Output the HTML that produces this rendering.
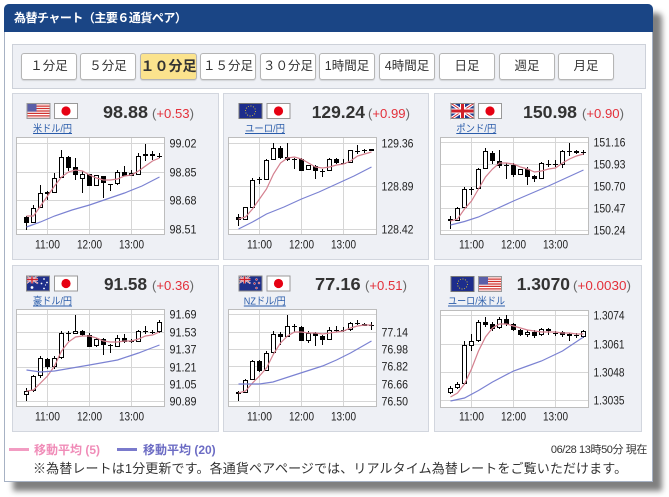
<!DOCTYPE html>
<html><head><meta charset="utf-8">
<style>
*{margin:0;padding:0;box-sizing:border-box}
body{width:669px;height:497px;background:#fff;position:relative;overflow:hidden;font-family:"Liberation Sans","Noto Sans CJK JP",sans-serif;color:#333}
.abs{position:absolute}
#box{left:4px;top:4px;width:649px;height:478px;border:1px solid #a7b2c4;border-radius:5px 5px 0 0;background:#fff;box-shadow:9px 9px 6px rgba(0,0,0,.5)}
#hd{left:4px;top:4px;width:649px;height:28px;background:#1a4585;border-radius:5px 5px 0 0;color:#fff;font-weight:bold;font-size:12px;letter-spacing:-0.5px;line-height:28px;padding-left:10px;white-space:nowrap}
#bp{left:12px;top:44px;width:634px;height:45px;background:#eef0f5;border:1px solid #cdd1d9}
.btn{position:absolute;top:53px;width:56px;height:27px;background:#fff;border:1px solid #b5b5b5;border-radius:3px;font-size:12.5px;text-align:center;line-height:25px;color:#333;box-shadow:0 1px 1px rgba(0,0,0,.12);white-space:nowrap}
.on{background:#fbe38d;font-weight:bold;font-size:14px}
.pnl{position:absolute;background:#eef0f5;border:1px solid #d2d6de}
svg text{font-family:"Liberation Sans","Noto Sans CJK JP",sans-serif}
.lk{font-size:10px;fill:#2a5caa}
.pr{font-size:17.5px;font-weight:bold;fill:#333}
.ch{font-size:13px;fill:#666}
.ch .r{fill:#e3303a}
.ax{font-size:12px;fill:#222}
.grid{stroke:#d6d6d6;stroke-width:1;fill:none}
.wk{stroke:#000;stroke-width:1;fill:none}
.wb{fill:#fff;stroke:#000;stroke-width:1}
.bb{fill:#000}
.m5{fill:none;stroke:#d4808f;stroke-width:1.2}
.m20{fill:none;stroke:#7b82d2;stroke-width:1.2}
.lg{position:absolute;top:443px;font-size:12px;font-weight:bold;line-height:14px;white-space:nowrap}
</style></head><body>
<div id="box" class="abs"></div>
<div id="hd" class="abs">為替チャート（主要６通貨ペア）</div>
<div id="bp" class="abs"></div>
<div class="btn" style="left:21px">１分足</div>
<div class="btn" style="left:80px">５分足</div>
<div class="btn on" style="left:139.5px;width:57px">１０分足</div>
<div class="btn" style="left:200px">１５分足</div>
<div class="btn" style="left:260px">３０分足</div>
<div class="btn" style="left:319px">1時間足</div>
<div class="btn" style="left:379px">4時間足</div>
<div class="btn" style="left:439px">日足</div>
<div class="btn" style="left:499px">週足</div>
<div class="btn" style="left:558px">月足</div>

<div class="pnl" style="left:12px;top:93px;width:207px;height:167px"></div>
<div class="pnl" style="left:223px;top:93px;width:206px;height:167px"></div>
<div class="pnl" style="left:434px;top:93px;width:208px;height:167px"></div>
<div class="pnl" style="left:12px;top:265px;width:207px;height:167px"></div>
<div class="pnl" style="left:223px;top:265px;width:206px;height:167px"></div>
<div class="pnl" style="left:434px;top:265px;width:208px;height:167px"></div>

<!-- Panel 1 USD/JPY -->
<svg class="abs" style="left:12px;top:93px" width="207" height="167">
<g transform="translate(14.5,10)"><rect width="24" height="16" fill="#fff"/><path d="M0 0h24v1.2H0zM0 2.5h24v1.2H0zM0 4.9h24v1.2H0zM0 7.4h24v1.2H0zM0 9.8h24v1.2H0zM0 12.3h24v1.2H0zM0 14.8h24v1.2H0z" fill="#d0312d"/><rect width="10" height="8.6" fill="#5b5fa8"/><rect x=".5" y=".5" width="23" height="15" fill="none" stroke="#999"/></g>
<g transform="translate(42,10)"><rect x=".5" y=".5" width="23" height="15" fill="#fff" stroke="#999"/><circle cx="12" cy="8" r="4.6" fill="#e60012"/></g>
<text class="lk" x="40.5" y="39" text-anchor="middle" textLength="39" lengthAdjust="spacingAndGlyphs">米ドル/円</text><line x1="21" y1="40.5" x2="60" y2="40.5" stroke="#2a5caa"/>
<text class="pr" x="91" y="25" textLength="45" lengthAdjust="spacingAndGlyphs">98.88</text>
<text class="ch" x="140" y="25" textLength="42" lengthAdjust="spacingAndGlyphs">(<tspan class="r">+0.53</tspan>)</text>
<g transform="translate(4,44)">
<rect x=".5" y=".5" width="148" height="97" fill="#fff" stroke="#bdbdbd"/>
<path class="grid" d="M1 6.5H148M1 35.5H148M1 63.5H148M1 92.5H148M31.5 1V97M73.5 1V97M115.5 1V97"/>
<path class="wk" d="M10.5 79V93M17.5 68V86M24.5 48V71M31.5 54V63M38.5 36V56M45.5 13V41M52.5 19V34M59.5 21V43M66.5 34V56M73.5 37V49M80.5 38V49M87.5 39V61M94.5 47V54M101.5 33V48M108.5 29V39M115.5 33V39M122.5 16V38M129.5 7V24M136.5 14V23M143.5 16V21"/>
<path class="wb" d="M15.5 71.5h4v14h-4zM22.5 56.5h4v14h-4zM36.5 41.5h4v14h-4zM43.5 20.5h4v20h-4zM64.5 37.5h4v4h-4zM78.5 38.5h4v10h-4zM99.5 35.5h4v11h-4zM113.5 36.5h4v2h-4zM120.5 19.5h4v18h-4zM127.5 17.5h4v1h-4z"/>
<path class="bb" d="M8 80h5v6h-5zM29 55h5v2h-5zM50 20h5v11h-5zM57 30h5v8h-5zM71 37h5v12h-5zM85 39h5v7h-5zM106 35h5v4h-5zM134 17h5v2h-5z"/>
<path class="wk" d="M92 47.5h5M141 19.5h5"/>
<polyline class="m5" points="10.5,79 17.5,79 24.5,69 31.5,59 38.5,49 45.5,40 52.5,35 59.5,33 66.5,34 73.5,38 80.5,41 87.5,43 94.5,43 101.5,42 108.5,39 115.5,38 122.5,34 129.5,29 136.5,24 143.5,21"/>
<polyline class="m20" points="10.5,90 24.5,85 38.5,79 56,73 73.5,68 91,62 108.5,56 126,49 143.5,40"/>
<text class="ax" x="153.5" y="10.5" textLength="27" lengthAdjust="spacingAndGlyphs">99.02</text>
<text class="ax" x="153.5" y="39.5" textLength="27" lengthAdjust="spacingAndGlyphs">98.85</text>
<text class="ax" x="153.5" y="67.5" textLength="27" lengthAdjust="spacingAndGlyphs">98.68</text>
<text class="ax" x="153.5" y="96.5" textLength="27" lengthAdjust="spacingAndGlyphs">98.51</text>
<text class="ax" x="31.5" y="111.5" text-anchor="middle" textLength="25" lengthAdjust="spacingAndGlyphs">11:00</text>
<text class="ax" x="73.5" y="111.5" text-anchor="middle" textLength="25" lengthAdjust="spacingAndGlyphs">12:00</text>
<text class="ax" x="115.5" y="111.5" text-anchor="middle" textLength="25" lengthAdjust="spacingAndGlyphs">13:00</text>
</g></svg>

<!-- Panel 2 EUR/JPY -->
<svg class="abs" style="left:223px;top:93px" width="206" height="167">
<g transform="translate(15.5,10)"><rect width="24" height="16" fill="#1d2d8c"/><circle cx="12" cy="8" r="5" fill="none" stroke="#d8c438" stroke-width=".9" stroke-dasharray="1 1.6"/><rect x=".5" y=".5" width="23" height="15" fill="none" stroke="#777"/></g>
<g transform="translate(43.5,10)"><rect x=".5" y=".5" width="23" height="15" fill="#fff" stroke="#999"/><circle cx="12" cy="8" r="4.6" fill="#e60012"/></g>
<text class="lk" x="42" y="39" text-anchor="middle" textLength="40" lengthAdjust="spacingAndGlyphs">ユーロ/円</text><line x1="22" y1="40.5" x2="62" y2="40.5" stroke="#2a5caa"/>
<text class="pr" x="88.7" y="25" textLength="53.3" lengthAdjust="spacingAndGlyphs">129.24</text>
<text class="ch" x="145" y="25" textLength="42" lengthAdjust="spacingAndGlyphs">(<tspan class="r">+0.99</tspan>)</text>
<g transform="translate(5,44)">
<rect x=".5" y=".5" width="148" height="97" fill="#fff" stroke="#bdbdbd"/>
<path class="grid" d="M1 6.5H148M1 49.5H148M1 92.5H148M31.5 1V97M73.5 1V97M115.5 1V97"/>
<path class="wk" d="M10.5 77V89M17.5 70V83M24.5 41V71M31.5 40V47M38.5 22V43M45.5 6V23M52.5 9V22M59.5 6V24M66.5 21V32M73.5 21V34M80.5 28V33M87.5 28V42M94.5 32V40M101.5 21V34M108.5 21V27M115.5 22V27M122.5 13V26M129.5 8V17M136.5 12V16M143.5 12V14"/>
<path class="wb" d="M15.5 70.5h4v12h-4zM22.5 43.5h4v27h-4zM36.5 23.5h4v19h-4zM43.5 11.5h4v11h-4zM78.5 28.5h4v4h-4zM99.5 22.5h4v11h-4zM120.5 13.5h4v12h-4zM141.5 12.5h4v1h-4z"/>
<path class="bb" d="M8 80h5v3h-5zM50 11h5v10h-5zM57 20h5v3h-5zM71 22h5v12h-5zM85 29h5v5h-5zM106 22h5v4h-5z"/>
<path class="wk" d="M29 42.5h5M64 22.5h5M92 34.5h5M113 26.5h5M127 14.5h5M134 13.5h5"/>
<polyline class="m5" points="10.5,82 17.5,80 24.5,72 31.5,62 38.5,52 45.5,37 52.5,26 59.5,21 66.5,20 73.5,22 80.5,26 87.5,30 94.5,31 101.5,30 108.5,28 115.5,27 122.5,24 129.5,19 136.5,17 143.5,15"/>
<polyline class="m20" points="10.5,92 24.5,85 38.5,77 56,70 73.5,62 91,55 108.5,47 126,39 143.5,30"/>
<text class="ax" x="153.5" y="10.5" textLength="32" lengthAdjust="spacingAndGlyphs">129.36</text>
<text class="ax" x="153.5" y="53.5" textLength="32" lengthAdjust="spacingAndGlyphs">128.89</text>
<text class="ax" x="153.5" y="96.5" textLength="32" lengthAdjust="spacingAndGlyphs">128.42</text>
<text class="ax" x="31.5" y="111.5" text-anchor="middle" textLength="25" lengthAdjust="spacingAndGlyphs">11:00</text>
<text class="ax" x="73.5" y="111.5" text-anchor="middle" textLength="25" lengthAdjust="spacingAndGlyphs">12:00</text>
<text class="ax" x="115.5" y="111.5" text-anchor="middle" textLength="25" lengthAdjust="spacingAndGlyphs">13:00</text>
</g></svg>

<!-- Panel 3 GBP/JPY -->
<svg class="abs" style="left:434px;top:93px" width="208" height="167">
<g transform="translate(16.5,10)"><rect width="24" height="16" fill="#1f3a8f"/><path d="M0 0L24 16M24 0L0 16" stroke="#fff" stroke-width="3.2"/><path d="M0 0L24 16M24 0L0 16" stroke="#d0202a" stroke-width="1"/><path d="M12 0V16M0 8H24" stroke="#fff" stroke-width="5"/><path d="M12 0V16M0 8H24" stroke="#d0202a" stroke-width="3"/><rect x=".5" y=".5" width="23" height="15" fill="none" stroke="#888"/></g>
<g transform="translate(44,10)"><rect x=".5" y=".5" width="23" height="15" fill="#fff" stroke="#999"/><circle cx="12" cy="8" r="4.6" fill="#e60012"/></g>
<text class="lk" x="42.3" y="39" text-anchor="middle" textLength="40" lengthAdjust="spacingAndGlyphs">ポンド/円</text><line x1="22.3" y1="40.5" x2="62.3" y2="40.5" stroke="#2a5caa"/>
<text class="pr" x="89" y="25" textLength="54" lengthAdjust="spacingAndGlyphs">150.98</text>
<text class="ch" x="148" y="25" textLength="42" lengthAdjust="spacingAndGlyphs">(<tspan class="r">+0.90</tspan>)</text>
<g transform="translate(6,44)">
<rect x=".5" y=".5" width="148" height="97" fill="#fff" stroke="#bdbdbd"/>
<path class="grid" d="M1 5.5H148M1 27.5H148M1 49.5H148M1 71.5H148M1 93.5H148M31.5 1V97M73.5 1V97M115.5 1V97"/>
<path class="wk" d="M10.5 79V92M17.5 70V84M24.5 50V71M31.5 50V58M38.5 31V52M45.5 11V32M52.5 14V27M59.5 13V31M66.5 26V42M73.5 26V40M80.5 32V38M87.5 30V48M94.5 38V45M101.5 25V42M108.5 23V30M115.5 23V30M122.5 13V31M129.5 6V19M136.5 13V17M143.5 13V18"/>
<path class="wb" d="M15.5 71.5h4v12h-4zM22.5 52.5h4v18h-4zM36.5 32.5h4v19h-4zM43.5 14.5h4v17h-4zM78.5 32.5h4v5h-4zM99.5 26.5h4v15h-4zM120.5 14.5h4v13h-4z"/>
<path class="bb" d="M8 82h5v2h-5zM50 16h5v8h-5zM57 24h5v5h-5zM71 28h5v10h-5zM85 32h5v8h-5zM92 39h5v3h-5zM134 14h5v2h-5z"/>
<path class="wk" d="M29 52.5h5M64 28.5h5M106 27.5h5M113 27.5h5M127 14.5h5M141 15.5h5"/>
<polyline class="m5" points="10.5,84 17.5,82 24.5,72 31.5,64 38.5,52 45.5,40 52.5,32 59.5,26 66.5,26 73.5,27 80.5,30 87.5,32 94.5,35 101.5,34 108.5,32 115.5,31 122.5,26 129.5,22 136.5,19 143.5,17"/>
<polyline class="m20" points="10.5,88 24.5,84.5 38.5,80 56,72 73.5,64 91,56.5 108.5,49 126,41 143.5,33"/>
<text class="ax" x="153.5" y="9.5" textLength="32" lengthAdjust="spacingAndGlyphs">151.16</text>
<text class="ax" x="153.5" y="31.5" textLength="32" lengthAdjust="spacingAndGlyphs">150.93</text>
<text class="ax" x="153.5" y="53.5" textLength="32" lengthAdjust="spacingAndGlyphs">150.70</text>
<text class="ax" x="153.5" y="75.5" textLength="32" lengthAdjust="spacingAndGlyphs">150.47</text>
<text class="ax" x="153.5" y="97.5" textLength="32" lengthAdjust="spacingAndGlyphs">150.24</text>
<text class="ax" x="31.5" y="111.5" text-anchor="middle" textLength="25" lengthAdjust="spacingAndGlyphs">11:00</text>
<text class="ax" x="73.5" y="111.5" text-anchor="middle" textLength="25" lengthAdjust="spacingAndGlyphs">12:00</text>
<text class="ax" x="115.5" y="111.5" text-anchor="middle" textLength="25" lengthAdjust="spacingAndGlyphs">13:00</text>
</g></svg>

<!-- Panel 4 AUD/JPY -->
<svg class="abs" style="left:12px;top:265px" width="207" height="167">
<g transform="translate(14,10.5)"><rect width="24" height="16" fill="#1f2f8a"/><g transform="scale(.5)"><path d="M0 0L24 16M24 0L0 16" stroke="#fff" stroke-width="3.2"/><path d="M0 0L24 16M24 0L0 16" stroke="#d0202a" stroke-width="1"/><path d="M12 0V16M0 8H24" stroke="#fff" stroke-width="5"/><path d="M12 0V16M0 8H24" stroke="#d0202a" stroke-width="3"/></g><circle cx="6" cy="12" r="1.4" fill="#fff"/><circle cx="18" cy="3.5" r=".9" fill="#fff"/><circle cx="21" cy="7" r=".9" fill="#fff"/><circle cx="15.5" cy="8" r=".9" fill="#fff"/><circle cx="18" cy="13" r=".9" fill="#fff"/><circle cx="19.5" cy="9.5" r=".6" fill="#fff"/><rect x=".5" y=".5" width="23" height="15" fill="none" stroke="#888"/></g>
<g transform="translate(42,10.5)"><rect x=".5" y=".5" width="23" height="15" fill="#fff" stroke="#999"/><circle cx="12" cy="8" r="4.6" fill="#e60012"/></g>
<text class="lk" x="40.5" y="39.5" text-anchor="middle" textLength="39" lengthAdjust="spacingAndGlyphs">豪ドル/円</text><line x1="21" y1="41" x2="60" y2="41" stroke="#2a5caa"/>
<text class="pr" x="92" y="25" textLength="43" lengthAdjust="spacingAndGlyphs">91.58</text>
<text class="ch" x="140" y="25" textLength="42" lengthAdjust="spacingAndGlyphs">(<tspan class="r">+0.36</tspan>)</text>
<g transform="translate(4,44)">
<rect x=".5" y=".5" width="148" height="97" fill="#fff" stroke="#bdbdbd"/>
<path class="grid" d="M1 5.5H148M1 23.5H148M1 40.5H148M1 58.5H148M1 75.5H148M1 92.5H148M31.5 1V97M73.5 1V97M115.5 1V97"/>
<path class="wk" d="M10.5 79V92M17.5 66V83M24.5 47V69M31.5 49V60M38.5 47V60M45.5 22V50M52.5 22V32M59.5 6V25M66.5 21V27M73.5 24V38M80.5 29V38M87.5 29V46M94.5 35V44M101.5 26V38M108.5 25V34M115.5 30V34M122.5 21V33M129.5 17V25M136.5 21V25M143.5 11V24"/>
<path class="wb" d="M8.5 82.5h4v3h-4zM15.5 67.5h4v14h-4zM22.5 49.5h4v17h-4zM36.5 49.5h4v8h-4zM43.5 24.5h4v24h-4zM57.5 22.5h4v2h-4zM78.5 30.5h4v6h-4zM99.5 29.5h4v8h-4zM120.5 22.5h4v10h-4zM141.5 13.5h4v9h-4z"/>
<path class="bb" d="M29 50h5v8h-5zM64 22h5v4h-5zM71 26h5v12h-5zM85 30h5v6h-5zM106 29h5v4h-5z"/>
<path class="wk" d="M50 24.5h5M92 36.5h5M113 32.5h5M127 22.5h5M134 23.5h5"/>
<polyline class="m5" points="10.5,82 17.5,81 24.5,74 31.5,67 38.5,57 45.5,42 52.5,33 59.5,28 66.5,27 73.5,27 80.5,29 87.5,32 94.5,33 101.5,33 108.5,32 115.5,32 122.5,30 129.5,27 136.5,26 143.5,23"/>
<polyline class="m20" points="10.5,61 24.5,63 38.5,62 56,59 73.5,56 87.5,53.5 101.5,51 112,47.5 122.5,44 133,40 143.5,36"/>
<text class="ax" x="153.5" y="9.5" textLength="27" lengthAdjust="spacingAndGlyphs">91.69</text>
<text class="ax" x="153.5" y="27.5" textLength="27" lengthAdjust="spacingAndGlyphs">91.53</text>
<text class="ax" x="153.5" y="44.5" textLength="27" lengthAdjust="spacingAndGlyphs">91.37</text>
<text class="ax" x="153.5" y="62.5" textLength="27" lengthAdjust="spacingAndGlyphs">91.21</text>
<text class="ax" x="153.5" y="79.5" textLength="27" lengthAdjust="spacingAndGlyphs">91.05</text>
<text class="ax" x="153.5" y="96.5" textLength="27" lengthAdjust="spacingAndGlyphs">90.89</text>
<text class="ax" x="31.5" y="111.5" text-anchor="middle" textLength="25" lengthAdjust="spacingAndGlyphs">11:00</text>
<text class="ax" x="73.5" y="111.5" text-anchor="middle" textLength="25" lengthAdjust="spacingAndGlyphs">12:00</text>
<text class="ax" x="115.5" y="111.5" text-anchor="middle" textLength="25" lengthAdjust="spacingAndGlyphs">13:00</text>
</g></svg>

<!-- Panel 5 NZD/JPY -->
<svg class="abs" style="left:223px;top:265px" width="206" height="167">
<g transform="translate(15.5,10.5)"><rect width="24" height="16" fill="#1f2f8a"/><g transform="scale(.5)"><path d="M0 0L24 16M24 0L0 16" stroke="#fff" stroke-width="3.2"/><path d="M0 0L24 16M24 0L0 16" stroke="#d0202a" stroke-width="1"/><path d="M12 0V16M0 8H24" stroke="#fff" stroke-width="5"/><path d="M12 0V16M0 8H24" stroke="#d0202a" stroke-width="3"/></g><circle cx="18" cy="4" r="1" fill="#d0202a" stroke="#fff" stroke-width=".4"/><circle cx="20.5" cy="7.5" r="1" fill="#d0202a" stroke="#fff" stroke-width=".4"/><circle cx="16" cy="8" r="1" fill="#d0202a" stroke="#fff" stroke-width=".4"/><circle cx="18" cy="12.5" r="1" fill="#d0202a" stroke="#fff" stroke-width=".4"/><rect x=".5" y=".5" width="23" height="15" fill="none" stroke="#888"/></g>
<g transform="translate(43.5,10.5)"><rect x=".5" y=".5" width="23" height="15" fill="#fff" stroke="#999"/><circle cx="12" cy="8" r="4.6" fill="#e60012"/></g>
<text class="lk" x="41.8" y="39.5" text-anchor="middle" textLength="42" lengthAdjust="spacingAndGlyphs">NZドル/円</text><line x1="20.8" y1="41" x2="62.8" y2="41" stroke="#2a5caa"/>
<text class="pr" x="92" y="25" textLength="45.7" lengthAdjust="spacingAndGlyphs">77.16</text>
<text class="ch" x="142" y="25" textLength="42" lengthAdjust="spacingAndGlyphs">(<tspan class="r">+0.51</tspan>)</text>
<g transform="translate(5,44)">
<rect x=".5" y=".5" width="148" height="97" fill="#fff" stroke="#bdbdbd"/>
<path class="grid" d="M1 5.5H148M1 23.5H148M1 40.5H148M1 57.5H148M1 75.5H148M1 92.5H148M31.5 1V97M73.5 1V97M115.5 1V97"/>
<path class="wk" d="M10.5 82V92M17.5 70V84M24.5 51V71M31.5 51V63M38.5 42V62M45.5 22V45M52.5 23V36M59.5 6V28M66.5 15V23M73.5 17V32M80.5 22V34M87.5 23V37M94.5 26V36M101.5 18V31M108.5 17V23M115.5 18V23M122.5 13V22M129.5 11V16M136.5 14V17M143.5 13V21"/>
<path class="wb" d="M15.5 71.5h4v12h-4zM22.5 52.5h4v18h-4zM36.5 44.5h4v17h-4zM43.5 25.5h4v18h-4zM57.5 17.5h4v10h-4zM78.5 24.5h4v7h-4zM99.5 21.5h4v9h-4zM120.5 14.5h4v6h-4z"/>
<path class="bb" d="M8 83h5v2h-5zM29 52h5v10h-5zM50 25h5v3h-5zM71 18h5v14h-5zM85 24h5v3h-5zM92 27h5v4h-5zM134 15h5v2h-5z"/>
<path class="wk" d="M64 17.5h5M106 21.5h5M113 21.5h5M127 14.5h5M141 16.5h5"/>
<polyline class="m5" points="10.5,84 17.5,82 24.5,74 31.5,67 38.5,59 45.5,45 52.5,34 59.5,27 66.5,23 73.5,23 80.5,24 87.5,24 94.5,25 101.5,24 108.5,23 115.5,22 122.5,19 129.5,17 136.5,16 143.5,16"/>
<polyline class="m20" points="10.5,75 31.5,75 45,73 66.5,66 80.5,61.5 94.5,57 108.5,51 122.5,44 133,38 143.5,32"/>
<text class="ax" x="153.5" y="27.5" textLength="26.5" lengthAdjust="spacingAndGlyphs">77.14</text>
<text class="ax" x="153.5" y="44.5" textLength="26.5" lengthAdjust="spacingAndGlyphs">76.98</text>
<text class="ax" x="153.5" y="61.5" textLength="26.5" lengthAdjust="spacingAndGlyphs">76.82</text>
<text class="ax" x="153.5" y="79.5" textLength="26.5" lengthAdjust="spacingAndGlyphs">76.66</text>
<text class="ax" x="153.5" y="96.5" textLength="26.5" lengthAdjust="spacingAndGlyphs">76.50</text>
<text class="ax" x="31.5" y="111.5" text-anchor="middle" textLength="25" lengthAdjust="spacingAndGlyphs">11:00</text>
<text class="ax" x="73.5" y="111.5" text-anchor="middle" textLength="25" lengthAdjust="spacingAndGlyphs">12:00</text>
<text class="ax" x="115.5" y="111.5" text-anchor="middle" textLength="25" lengthAdjust="spacingAndGlyphs">13:00</text>
</g></svg>

<!-- Panel 6 EUR/USD -->
<svg class="abs" style="left:434px;top:265px" width="208" height="167">
<g transform="translate(16.5,11)"><rect width="24" height="16" fill="#1d2d8c"/><circle cx="12" cy="8" r="5" fill="none" stroke="#d8c438" stroke-width=".9" stroke-dasharray="1 1.6"/><rect x=".5" y=".5" width="23" height="15" fill="none" stroke="#777"/></g>
<g transform="translate(44,11)"><rect width="24" height="16" fill="#fff"/><path d="M0 0h24v1.2H0zM0 2.5h24v1.2H0zM0 4.9h24v1.2H0zM0 7.4h24v1.2H0zM0 9.8h24v1.2H0zM0 12.3h24v1.2H0zM0 14.8h24v1.2H0z" fill="#d0312d"/><rect width="10" height="8.6" fill="#5b5fa8"/><rect x=".5" y=".5" width="23" height="15" fill="none" stroke="#999"/></g>
<text class="lk" x="42.5" y="39.5" text-anchor="middle" textLength="57" lengthAdjust="spacingAndGlyphs">ユーロ/米ドル</text><line x1="14" y1="41" x2="71" y2="41" stroke="#2a5caa"/>
<text class="pr" x="82.7" y="25" textLength="53.3" lengthAdjust="spacingAndGlyphs">1.3070</text>
<text class="ch" x="139" y="25" textLength="58" lengthAdjust="spacingAndGlyphs">(<tspan class="r">+0.0030</tspan>)</text>
<g transform="translate(6,45)">
<rect x=".5" y=".5" width="148" height="97" fill="#fff" stroke="#bdbdbd"/>
<path class="grid" d="M1 5.5H148M1 34.5H148M1 62.5H148M1 90.5H148M31.5 1V97M73.5 1V97M115.5 1V97"/>
<path class="wk" d="M10.5 76V84M17.5 72V79M24.5 31V75M31.5 24V41M38.5 10V32M45.5 7V17M52.5 12V21M59.5 7V19M66.5 5V16M73.5 13V21M80.5 19V26M87.5 20V27M94.5 20V28M101.5 18V26M108.5 18V25M115.5 21V26M122.5 21V27M129.5 23V31M136.5 23V28M143.5 20V28"/>
<path class="wb" d="M8.5 78.5h4v4h-4zM15.5 74.5h4v3h-4zM22.5 35.5h4v38h-4zM29.5 31.5h4v4h-4zM36.5 12.5h4v18h-4zM57.5 9.5h4v8h-4zM85.5 22.5h4v2h-4zM99.5 19.5h4v5h-4zM141.5 21.5h4v5h-4z"/>
<path class="bb" d="M43 12h5v3h-5zM50 14h5v5h-5zM64 9h5v5h-5zM71 14h5v6h-5zM78 20h5v5h-5zM92 22h5v4h-5zM106 19h5v2h-5zM120 22h5v3h-5zM127 24h5v2h-5z"/>
<path class="wk" d="M113 23.5h5M134 25.5h5"/>
<polyline class="m5" points="10.5,87 17.5,83 24.5,74 31.5,59 38.5,41 45.5,27 52.5,18 59.5,14 66.5,14 73.5,16 80.5,18 87.5,20 94.5,21 101.5,22 108.5,22 115.5,22 122.5,23 129.5,23 136.5,24 143.5,24"/>
<polyline class="m20" points="10.5,91 24.5,88 38.5,80.5 52.5,72 73.5,61 87.5,56 101.5,51 112,46 122.5,41 133,34 143.5,27"/>
<text class="ax" x="153.5" y="9.5" textLength="31" lengthAdjust="spacingAndGlyphs">1.3074</text>
<text class="ax" x="153.5" y="38.5" textLength="31" lengthAdjust="spacingAndGlyphs">1.3061</text>
<text class="ax" x="153.5" y="66.5" textLength="31" lengthAdjust="spacingAndGlyphs">1.3048</text>
<text class="ax" x="153.5" y="94.5" textLength="31" lengthAdjust="spacingAndGlyphs">1.3035</text>
<text class="ax" x="31.5" y="110.5" text-anchor="middle" textLength="25" lengthAdjust="spacingAndGlyphs">11:00</text>
<text class="ax" x="73.5" y="110.5" text-anchor="middle" textLength="25" lengthAdjust="spacingAndGlyphs">12:00</text>
<text class="ax" x="115.5" y="110.5" text-anchor="middle" textLength="25" lengthAdjust="spacingAndGlyphs">13:00</text>
</g></svg>

<!-- Legend -->
<div class="abs" style="left:9px;top:448px;width:20px;height:3px;background:#f29cc2"></div>
<div class="lg" style="left:34px;color:#f08cb8">移動平均 (5)</div>
<div class="abs" style="left:117px;top:448px;width:20px;height:3px;background:#7a7acc"></div>
<div class="lg" style="left:143px;color:#6c6cc4">移動平均 (20)</div>
<div class="abs" style="right:22px;top:443px;font-size:11px;letter-spacing:-0.4px;line-height:14px;color:#333;white-space:nowrap">06/28 13時50分 現在</div>
<div class="abs" style="left:33px;top:461px;font-size:13px;line-height:16px;color:#333;white-space:nowrap;letter-spacing:0.12px">※為替レートは1分更新です。各通貨ペアページでは、リアルタイム為替レートをご覧いただけます。</div>
</body></html>
